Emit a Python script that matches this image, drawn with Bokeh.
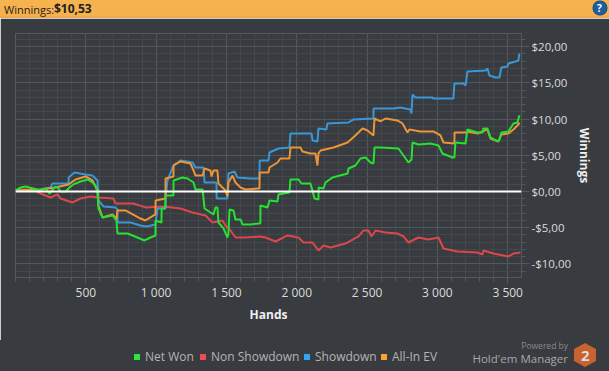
from bokeh.embed import file_html
from bokeh.resources import INLINE
from bokeh.plotting import figure
from bokeh.layouts import column
from bokeh.models import Range1d, FixedTicker, Span, Div

net_h = [0,36,71,128,178,213,242,284,306,320,356,391,412,462,512,547,569,583,590,619,690,718,725,796,867,917,960,995,996,1038,1039,1066,1067,1123,1124,1187,1223,1266,1280,1330,1344,1386,1408,1422,1436,1443,1479,1507,1514,1522,1550,1564,1600,1614,1671,1728,1741,1742,1792,1806,1863,1870,1905,1948,1955,2012,2033,2097,2112,2126,2154,2155,2190,2204,2254,2361,2368,2417,2453,2489,2524,2545,2553,2595,2723,2759,2794,2816,2823,2865,2951,3008,3036,3107,3121,3128,3200,3214,3285,3320,3327,3356,3377,3427,3441,3455,3505,3541,3569,3583]
net_v = [.14,.55,.69,.41,.14,.41,-.28,.69,.41,0,0,.69,.97,1.38,1.66,1.24,.83,-.14,-2.35,-3.59,-3.31,-4.0,-5.8,-5.8,-6.35,-6.76,-6.35,-6.07,-4.0,-4.28,-2.35,-2.35,-.55,-.55,1.52,1.93,1.79,1.24,.28,.28,-2.35,-2.9,-3.17,-2.2,-2.2,-4.28,-5.1,-6.35,-5.8,-2.48,-2.62,-3.86,-3.86,-4.55,-4.55,-4.42,-4.42,-1.93,-2.2,-1.24,-1.38,-.41,-.28,-.14,1.66,1.66,1.1,1.1,.14,-.97,-1.1,.55,.41,1.24,1.93,2.48,3.17,3.59,4.55,4.69,4.0,3.86,6.07,6.07,5.93,4.97,4.0,4.42,6.76,6.49,6.62,6.35,5.24,4.69,4.69,6.76,6.62,8.56,8.14,8.14,8.69,8.69,7.45,6.9,7.18,8.14,8.28,9.38,9.52,10.53]

sd_h = [0,178,249,263,377,378,419,498,547,583,590,626,711,725,726,818,889,931,995,1010,1066,1067,1081,1123,1173,1259,1280,1337,1344,1429,1430,1507,1514,1557,1578,1671,1735,1736,1799,1806,1870,1948,1955,2105,2112,2147,2154,2211,2218,2368,2403,2545,2546,2688,2737,2808,2816,2823,2844,2965,2972,3114,3121,3185,3200,3214,3342,3356,3370,3413,3441,3455,3498,3505,3555,3576,3583]
sd_v = [.14,.28,.55,1.1,1.1,1.93,2.62,2.35,2.2,1.52,-1.24,-2.07,-2.2,-2.48,-4.28,-4.28,-4.69,-4.83,-4.55,-2.35,-2.35,-.83,1.52,3.59,4.28,4.0,3.31,3.31,1.24,1.24,-.97,-.97,2.48,2.76,1.93,1.79,1.79,4.28,4.28,5.38,5.93,6.07,8.0,8.0,7.04,6.9,8.69,8.56,9.38,9.52,9.94,10.07,11.45,11.45,11.59,11.32,10.76,13.39,12.97,12.97,12.83,12.83,14.9,14.9,14.63,16.56,16.7,16.97,16.0,15.73,15.73,17.11,17.25,17.66,17.94,18.08,19.04]

ev_h = [0,178,284,377,427,498,547,583,590,619,690,718,725,782,889,924,995,996,1066,1067,1123,1124,1173,1244,1266,1280,1330,1344,1386,1394,1408,1436,1443,1493,1507,1514,1543,1564,1600,1635,1728,1735,1736,1799,1806,1863,1884,1948,1955,2026,2041,2097,2133,2147,2154,2169,2261,2361,2417,2467,2503,2545,2553,2595,2631,2716,2752,2787,2801,2880,2972,3022,3043,3121,3122,3200,3214,3285,3356,3377,3434,3455,3505,3541,3576,3583]
ev_v = [.14,.28,.55,.97,1.66,2.07,1.52,.14,-1.93,-3.59,-3.17,-3.73,-2.62,-2.62,-3.73,-4.0,-3.17,-1.24,-.97,1.79,2.07,3.59,4.14,3.86,2.9,2.2,2.2,3.17,2.9,2.07,2.9,2.9,1.1,.14,-.69,1.24,2.2,1.24,.55,.28,.41,.41,2.62,2.62,3.31,4.0,4.55,4.55,6.07,6.07,5.52,5.24,5.24,3.59,5.24,5.66,6.07,6.76,7.73,8.69,8.42,7.73,10.07,9.66,10.07,9.8,9.38,8.14,8.56,8.28,8.28,7.73,6.76,6.62,8.14,8.14,8.28,8.0,8.56,7.31,6.9,7.87,8.0,8.56,9.25,9.52]

ns_h = [0,36,121,178,249,299,320,405,462,533,590,697,711,839,924,1052,1173,1259,1351,1401,1472,1493,1529,1564,1635,1742,1778,1849,1934,2012,2048,2112,2154,2190,2240,2346,2439,2474,2510,2531,2560,2631,2716,2759,2794,2865,2936,3008,3043,3143,3285,3320,3327,3398,3505,3541,3590]
ns_v = [.14,.28,.28,-.28,-.83,-.41,-.97,-1.52,-.97,-.69,-.83,-.97,-1.66,-1.66,-2.2,-2.07,-2.35,-2.9,-3.31,-4.28,-4.0,-4.69,-5.38,-6.35,-6.35,-6.21,-6.35,-6.9,-6.07,-6.35,-7.04,-7.04,-8.14,-7.45,-7.73,-7.18,-6.21,-5.38,-5.38,-6.21,-5.38,-5.66,-5.8,-6.21,-7.04,-6.35,-6.62,-6.35,-7.87,-8.28,-8.42,-8.69,-8.14,-8.56,-8.97,-8.56,-8.42]

x_ticks = [500, 1000, 1500, 2000, 2500, 3000, 3500]
x_labels = ["500", "1 000", "1 500", "2 000", "2 500", "3 000", "3 500"]
y_ticks = [-10, -5, 0, 5, 10, 15, 20]
y_labels = ["-$10,00", "-$5,00", "$0,00", "$5,00", "$10,00", "$15,00", "$20,00"]
legend_names = ["Net Won", "Non Showdown", "Showdown", "All-In EV"]
legend_colors = ["#2be53a", "#ef4b50", "#2ea6f2", "#ffa032"]
line_colors = {"net": "#26e032", "ns": "#dc474c", "sd": "#3a97d6", "ev": "#ec9436"}

BG = "#383b3f"
FONT = "Open Sans"
HEAD_H = 18
MAIN_H = 322
FOOT_H = 31

p = figure(width=609, height=MAIN_H, output_backend="svg", toolbar_location=None,
           x_range=Range1d(0, 3598), y_range=Range1d(-11.87, 21.8),
           min_border_left=15, min_border_right=88, min_border_top=15, min_border_bottom=63,
           background_fill_color=BG, border_fill_color=BG,
           outline_line_color="#55595d", y_axis_location="right")

xa = p.xaxis[0]
ya = p.yaxis[0]
xa.ticker = FixedTicker(ticks=x_ticks, minor_ticks=list(range(0, 3600, 100)))
ya.ticker = FixedTicker(ticks=y_ticks, minor_ticks=list(range(-11, 22)))
xa.major_label_overrides = dict(zip(x_ticks, x_labels))
ya.major_label_overrides = dict(zip(y_ticks, y_labels))
for a in (xa, ya):
    a.axis_line_color = None
    a.major_tick_line_color = "#55595d"
    a.minor_tick_line_color = "#55595d"
    a.major_tick_in = 0
    a.minor_tick_in = 0
    a.major_label_text_color = "#dcdcdc"
    a.major_label_text_font = FONT
    a.major_label_text_font_size = "12px"
    a.axis_label_text_color = "#f0f0f0"
    a.axis_label_text_font = FONT
    a.axis_label_text_font_size = "12px"
    a.axis_label_text_font_style = "bold"
ya.major_label_text_font_size = "11.5px"
xa.major_tick_out = 6
xa.minor_tick_out = 4
ya.major_tick_out = 8
ya.minor_tick_out = 4
xa.axis_label = "Hands"
ya.axis_label = "Winnings"
xa.major_label_standoff = 0
xa.axis_label_standoff = 2
ya.major_label_standoff = 2
ya.axis_label_standoff = 2

for g in (p.xgrid[0], p.ygrid[0]):
    g.grid_line_color = "#53575b"
    g.grid_line_width = 1.2
    g.minor_grid_line_color = "#44484c"

p.line(ns_h, ns_v, line_color=line_colors["ns"], line_width=2)
p.line(sd_h, sd_v, line_color=line_colors["sd"], line_width=2)
p.line(ev_h, ev_v, line_color=line_colors["ev"], line_width=2)
p.line(net_h, net_v, line_color=line_colors["net"], line_width=2)
p.add_layout(Span(location=0, dimension="width", line_color="#ffffff", line_width=2))


def span(x, y, t, size, color, weight="normal", right=False):
    pos = f"right:{609 - x}px" if right else f"left:{x}px"
    return (f'<span style="position:absolute;{pos};top:{y}px;transform:translateY(-50%);white-space:nowrap;'
            f'font-family:\'{FONT}\';font-size:{size}px;font-weight:{weight};color:{color};line-height:1">{t}</span>')


head_html = (span(4, 9, "Winnings:", 11, "#222") + span(54, 9, "$10,53", 12, "#222", "bold")
             + '<span style="position:absolute;left:593px;top:1px;width:14px;height:14px;border-radius:50%;'
               'background:#1c5f9e;box-shadow:0 0 0 .5px #0f3f70"></span>'
             + span(597, 8, "?", 10, "#fff", "bold"))
head = Div(text=head_html, width=609, height=HEAD_H, margin=0,
           styles={"background": "linear-gradient(#f6b34e 0%, #f5b14c 85%, #e8a543 100%)", "position": "relative"})

legend_sq_x = [134, 200, 304, 381]
legend_tx_x = [145, 211, 315, 392]
FT = HEAD_H + MAIN_H
foot_html = ""
for name, col, sx, tx in zip(legend_names, legend_colors, legend_sq_x, legend_tx_x):
    foot_html += (f'<span style="position:absolute;left:{sx}px;top:{354 - FT}px;width:6px;height:6px;'
                  f'background:{col}"></span>')
    foot_html += span(tx, 357 - FT, name, 12, "#b4b4b4")
foot_html += span(568, 346 - FT, "Powered by", 8.5, "#8a8a8a", right=True)
foot_html += span(568, 359 - FT, "Hold'em Manager", 11.5, "#a8a8a8", right=True)
foot_html += (f'<span style="position:absolute;left:574px;top:{343 - FT}px;width:22px;height:24px;background:#c8622f;'
              'clip-path:polygon(50% 0,100% 25%,100% 75%,50% 100%,0 75%,0 25%)"></span>')
foot_html += span(581, 355 - FT, "2", 15, "#ddd", "bold")
foot = Div(text=foot_html, width=609, height=FOOT_H, margin=0, styles={"background": BG, "position": "relative"})

layout = column(head, p, foot, spacing=0)
open("out.html", "w").write(file_html(layout, INLINE))
